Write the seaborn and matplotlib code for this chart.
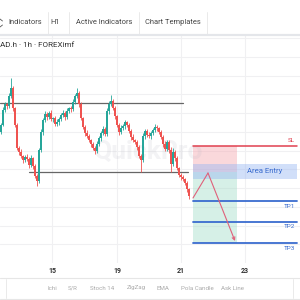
import numpy as np
import pandas as pd
import matplotlib
matplotlib.use("Agg")
import matplotlib.pyplot as plt
from matplotlib.lines import Line2D
import seaborn as sns

# ---------------- data ----------------
first_open = 131
closes = [138, 153, 159, 157, 167, 175, 155, 138, 115, 111,
          107, 103, 106, 104, 98, 105, 97, 87, 82, 113,
          131, 143, 149, 146, 150, 144, 145, 139, 141, 144,
          148, 150, 146, 152, 155, 154, 161, 167, 170, 159,
          145, 136, 130, 127, 123, 119, 115, 112, 119, 125,
          130, 134, 129, 152, 159, 162, 155, 147, 138, 131,
          135, 137, 141, 138, 132, 126, 123, 121, 116, 107,
          103, 127, 132, 128, 127, 130, 133, 136, 135, 131,
          126, 119, 114, 121, 113, 99, 111, 105, 95, 88,
          86, 84, 80, 74, 67]
up_wick = [2, 3, 2, 1, 3, 10, 2, 1, 2, 2,
           3, 1, 2, 3, 2, 3, 1, 2, 2, 2,
           3, 2, 3, 2, 2, 3, 1, 2, 3, 2,
           2, 3, 2, 3, 1, 2, 3, 2, 5, 2,
           2, 1, 2, 3, 2, 1, 2, 2, 3, 2,
           2, 3, 2, 3, 3, 6, 2, 2, 1, 2,
           3, 2, 2, 1, 2, 2, 3, 1, 2, 2,
           2, 3, 2, 2, 3, 2, 2, 3, 2, 1,
           2, 2, 3, 2, 2, 3, 4, 2, 2, 1,
           2, 2, 1, 2, 1]
dn_wick = [2, 1, 2, 3, 2, 2, 3, 2, 2, 3,
           2, 3, 2, 2, 3, 2, 3, 2, 5, 2,
           2, 3, 2, 3, 2, 2, 3, 2, 2, 3,
           2, 2, 3, 2, 2, 3, 2, 2, 2, 3,
           2, 2, 3, 2, 2, 3, 2, 3, 2, 2,
           3, 2, 2, 2, 3, 2, 2, 3, 2, 3,
           2, 2, 3, 2, 2, 3, 2, 2, 3, 2,
           12, 2, 3, 2, 2, 3, 2, 2, 3, 2,
           2, 3, 2, 2, 3, 8, 2, 3, 2, 2,
           3, 2, 2, 3, 3]

resistance = 160
support = 91
sl_level = 117
entry_level = 91
entry_top = 99
entry_bottom = 84
tp_levels = [62, 41, 20]
tp_labels = ["TP1", "TP2", "TP3"]
arrow_x = [96, 103.5, 117]
arrow_y = [65, 90, 22]

tick_pos = [25.5, 58, 90, 122]
tick_labels = ["15", "19", "21", "23"]
grid_levels = [18.75, 37.5, 56.25, 75, 93.75, 112.5, 131.25, 150, 168.75, 187.5, 206.25, 225]

toolbar_items = ["Indicators", "H1", "Active Indicators", "Chart Templates"]
bottom_items = ["Ichi", "S/R", "Stoch 14", "ZigZag", "EMA", "Pola Candle", "Ask Line"]
title_text = "AD.h · 1h · FOREXimf"

# ---------------- style ----------------
sns.set_theme(style="white")
plt.rcParams["font.family"] = ["Roboto", "DejaVu Sans"]

GREEN = "#26a69a"
RED = "#ef5350"

opens = [first_open] + closes[:-1]
df = pd.DataFrame({"open": opens, "close": closes})
df["idx"] = np.arange(len(df))
df["top"] = df[["open", "close"]].max(axis=1)
df["bot"] = df[["open", "close"]].min(axis=1)
df["high"] = df["top"] + np.array(up_wick)
df["low"] = df["bot"] - np.array(dn_wick)
df["up"] = df["close"] >= df["open"]
df["color"] = np.where(df["up"], GREEN, RED)
df["h"] = np.maximum(df["top"] - df["bot"], 0.8)

fig = plt.figure(figsize=(3, 3), dpi=100)
fig.patch.set_facecolor("white")
ax = fig.add_axes([0, 37 / 300, 1, 228 / 300])
ax.set_xlim(-0.5, 149.5)
ax.set_ylim(0, 228)
ax.set_facecolor("white")

# grid
ax.set_xticks(tick_pos)
ax.set_xticklabels([])
ax.set_yticks(grid_levels)
ax.set_yticklabels([])
ax.tick_params(length=0)
ax.grid(True, color="#f0f0f2", lw=0.8)
for s in ax.spines.values():
    s.set_visible(False)

# zones
ax.fill_between([96, 118], entry_level, sl_level, color="#f5a3ab", alpha=0.42, lw=0, zorder=1)
ax.fill_between([96, 118], tp_levels[-1], entry_level, color="#9fdcc6", alpha=0.42, lw=0, zorder=1)
ax.fill_between([96, 148], entry_bottom, entry_top, color="#9ab8f2", alpha=0.45, lw=0, zorder=1.2)

# watermark
ax.text(74, 111, "QuickPro", fontsize=19, fontweight="bold", color="#b8b8c4",
        alpha=0.16, ha="center", va="center", zorder=1.5)

# support / resistance
ax.plot([-0.5, 91], [resistance, resistance], color="#666666", lw=0.9, zorder=2)
ax.plot([14, 93.5], [support, support], color="#666666", lw=0.9, zorder=2)

# candles
ax.vlines(df["idx"], df["low"], df["high"], colors=df["color"], lw=0.6, zorder=3)
ax.bar(df["idx"], df["h"], bottom=df["bot"], width=0.8, color=df["color"], lw=0, zorder=4)

# SL / TP lines
ax.plot([96, 148], [sl_level, sl_level], color="#e0404f", lw=1.1, zorder=5)
ax.text(147, sl_level + 2.5, "SL", color="#e0404f", fontsize=4.6, ha="right", va="bottom", zorder=6)
for lvl, lab in zip(tp_levels, tp_labels):
    ax.plot([96, 148], [lvl, lvl], color="#3a6ccf", lw=1.3, zorder=5)
    ax.text(147, lvl - 2.5, lab, color="#3a6ccf", fontsize=4.6, ha="right", va="top", zorder=6)
ax.text(132, (entry_top + entry_bottom) / 2, "Area Entry", color="#3a6ccf", fontsize=5.6,
        ha="center", va="center", zorder=6)

# arrow path (seaborn line)
arrow_df = pd.DataFrame({"x": arrow_x[:2], "y": arrow_y[:2]})
sns.lineplot(data=arrow_df, x="x", y="y", ax=ax, color="#e0607a", lw=0.8, zorder=6,
             sort=False, legend=False)
ax.annotate("", xy=(arrow_x[2], arrow_y[2]), xytext=(arrow_x[1], arrow_y[1]),
            arrowprops=dict(arrowstyle="->", color="#e0607a", lw=0.8,
                            shrinkA=0, shrinkB=0, mutation_scale=5), zorder=6)
ax.set_xlabel("")
ax.set_ylabel("")

# x tick labels
for p, lab in zip(tick_pos, tick_labels):
    fig.text((2 * p + 1) / 300, 1 - 271 / 300, lab, fontsize=5, fontweight="bold",
             color="#333333", ha="center", va="center")

# title
fig.text(0.0, 1 - 45 / 300, title_text, fontsize=5.8, color="#333333", ha="left", va="center")

# toolbar
tb_centers = [25, 55, 104, 173]
for c, lab in zip(tb_centers, toolbar_items):
    fig.text(c / 300, 1 - 23 / 300, lab, fontsize=5.4, color="#444444", ha="center", va="center")
for xs in [48, 69, 139, 207]:
    fig.add_artist(Line2D([xs / 300, xs / 300], [1 - 12 / 300, 1 - 34 / 300],
                          color="#e6e6e6", lw=0.6))
fig.add_artist(Line2D([0, 1], [1 - 34.5 / 300, 1 - 34.5 / 300], color="#e4e6ea", lw=1.6))
# small expand icon at the left edge (partially cut off)
fig.add_artist(Line2D([0, 2.5 / 300], [1 - 19 / 300, 1 - 21 / 300], color="#555555", lw=0.6))
fig.add_artist(Line2D([0, 2.5 / 300], [1 - 27 / 300, 1 - 25 / 300], color="#555555", lw=0.6))

# bottom bar
fig.add_artist(Line2D([0, 1], [1 - 278 / 300, 1 - 278 / 300], color="#e6e6e6", lw=0.8))
fig.add_artist(Line2D([0, 1], [1 - 298.5 / 300, 1 - 298.5 / 300], color="#e6e6e6", lw=0.8))
fig.add_artist(Line2D([6 / 300, 6 / 300], [1 - 279 / 300, 1 - 298 / 300], color="#e6e6e6", lw=0.6))
fig.add_artist(Line2D([293 / 300, 293 / 300], [1 - 279 / 300, 1 - 298 / 300], color="#e6e6e6", lw=0.6))
bb_centers = [52, 73, 102, 136, 163, 197, 233]
for c, lab in zip(bb_centers, bottom_items):
    fig.text(c / 300, 1 - 288 / 300, lab, fontsize=4.4, color="#aaaaaa", ha="center", va="center")

fig.savefig("out.png", dpi=100, facecolor="white")
